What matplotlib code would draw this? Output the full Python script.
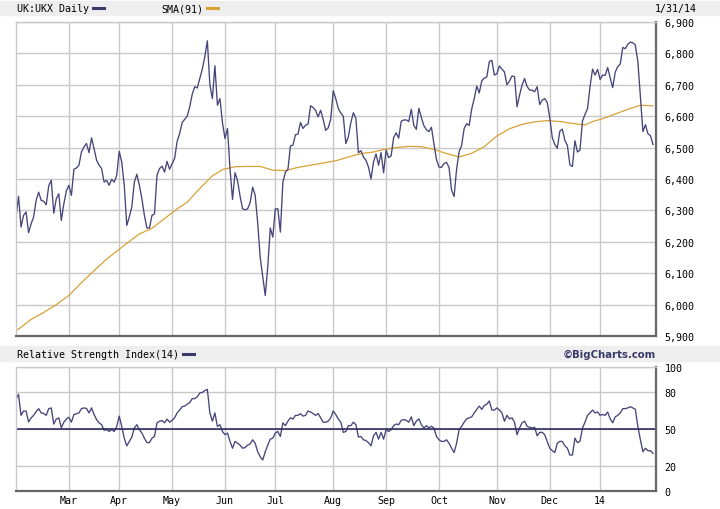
import numpy as np
import pandas as pd
import matplotlib
matplotlib.use('Agg')
import matplotlib.pyplot as plt
from matplotlib.patches import Rectangle
from matplotlib.lines import Line2D
from matplotlib.ticker import FuncFormatter

# LSE trading days, Jan 31 2013 .. Jan 31 2014
holidays = ['2013-03-29', '2013-04-01', '2013-05-06', '2013-05-27',
            '2013-08-26', '2013-12-25', '2013-12-26', '2014-01-01']

# daily close, UK:UKX
close_feb = [6279, 6345, 6247, 6284, 6295, 6229, 6257, 6279, 6332, 6358, 6332,
             6329, 6318, 6378, 6396, 6291, 6337, 6353, 6268, 6321, 6362]  # incl. Jan 31
close_mar = [6380, 6348, 6431, 6435, 6444, 6486, 6502, 6513, 6484, 6531,
             6497, 6460, 6444, 6433, 6390, 6396, 6380, 6399, 6390, 6412]
close_apr = [6488, 6454, 6380, 6252, 6279, 6311, 6390, 6415, 6380, 6337, 6284,
             6244, 6244, 6284, 6289, 6412, 6433, 6441, 6422, 6456, 6431]
close_may = [6449, 6465, 6520, 6545, 6580, 6590, 6600, 6630, 6670, 6694, 6690,
             6720, 6750, 6790, 6840, 6700, 6656, 6761, 6635, 6656, 6580]
close_jun = [6529, 6561, 6433, 6335, 6420, 6395, 6345, 6305, 6302, 6305,
             6325, 6374, 6348, 6260, 6150, 6090, 6029, 6120, 6244, 6215]
close_jul = [6305, 6305, 6231, 6390, 6422, 6430, 6505, 6508, 6541, 6543, 6580, 6561,
             6571, 6575, 6633, 6628, 6618, 6598, 6619, 6590, 6555, 6563, 6590]
close_aug = [6681, 6656, 6625, 6610, 6600, 6513, 6534, 6580, 6611, 6593, 6484,
             6490, 6470, 6460, 6438, 6400, 6454, 6480, 6444, 6484, 6420]
close_sep = [6492, 6468, 6474, 6532, 6547, 6530, 6584, 6588, 6588, 6583, 6622,
             6571, 6558, 6625, 6596, 6570, 6557, 6551, 6565, 6512, 6462]
close_oct = [6438, 6437, 6449, 6453, 6437, 6365, 6344, 6431, 6487, 6507, 6561, 6576,
             6571, 6623, 6656, 6696, 6674, 6713, 6721, 6725, 6774, 6778, 6731]
close_nov = [6735, 6760, 6750, 6741, 6700, 6712, 6728, 6726, 6630, 6667, 6699,
             6720, 6695, 6683, 6683, 6678, 6694, 6637, 6651, 6656, 6644]
close_dec = [6595, 6532, 6510, 6498, 6552, 6559, 6523, 6507, 6445, 6440,
             6522, 6486, 6492, 6585, 6606, 6624, 6694, 6750, 6731, 6749]
close_jan = [6717, 6731, 6730, 6755, 6722, 6691, 6740, 6758, 6766, 6819, 6815,
             6829, 6836, 6834, 6826, 6774, 6663, 6551, 6573, 6544, 6538, 6510]

# SMA(91), read weekly
sma_dates = ['2013-01-31', '2013-02-01', '2013-02-08', '2013-02-15', '2013-02-22',
             '2013-03-01', '2013-03-08', '2013-03-15', '2013-03-22', '2013-03-28',
             '2013-04-05', '2013-04-12', '2013-04-19', '2013-04-26', '2013-05-03',
             '2013-05-10', '2013-05-17', '2013-05-24', '2013-05-31', '2013-06-07',
             '2013-06-14', '2013-06-21', '2013-06-28', '2013-07-05', '2013-07-12',
             '2013-07-19', '2013-07-26', '2013-08-02', '2013-08-09', '2013-08-16',
             '2013-08-23', '2013-08-30', '2013-09-06', '2013-09-13', '2013-09-20',
             '2013-09-27', '2013-10-04', '2013-10-11', '2013-10-18', '2013-10-25',
             '2013-11-01', '2013-11-08', '2013-11-15', '2013-11-22', '2013-11-29',
             '2013-12-06', '2013-12-13', '2013-12-20', '2013-12-27', '2014-01-03',
             '2014-01-10', '2014-01-17', '2014-01-24', '2014-01-31']
sma_values = [5919, 5922, 5953, 5975, 6000, 6029, 6070, 6108, 6145, 6170,
              6195, 6225, 6243, 6274, 6305, 6326, 6370, 6410, 6430, 6439,
              6440, 6440, 6428, 6427, 6437, 6444, 6451, 6458, 6470, 6481,
              6486, 6494, 6500, 6504, 6503, 6494, 6481, 6470, 6482, 6503,
              6537, 6560, 6574, 6582, 6586, 6583, 6577, 6572, 6583, 6592,
              6607, 6622, 6635, 6633]

# RSI(14), daily
rsi_values = [74, 78, 61, 64.5, 64.5, 55.7, 59, 61, 64, 66.4,
              63, 62.5, 61, 66.4, 67, 54, 58, 59, 51, 55.5,
              58, 59.5, 55.5, 61.7, 62.3, 63, 66.4, 67, 66.6, 63,
              67, 61.7, 57.6, 55, 53.5, 49, 49.5, 48, 49.5, 48,
              52, 60.4, 52, 42.6, 36.4, 40, 43.5, 50.8, 53.5, 49.5,
              46.7, 42.6, 39, 39, 42.6, 44, 55, 56.3, 56.8, 55,
              58, 55.5, 57, 59, 63, 65.3, 68, 68.5, 70, 71.3,
              74.5, 74.5, 76, 79, 79.5, 81, 82, 63, 56.3, 63,
              52, 53.5, 48, 45.4, 46.7, 40, 34.5, 40, 38.5, 37,
              34.5, 35, 37, 38, 41.3, 38.5, 31.7, 27.6, 25, 31.7,
              37, 41.8, 42.6, 46.7, 48, 44, 55, 52.7, 56.3, 59,
              58, 61, 61, 62.3, 60.4, 61, 64.5, 63.7, 62.5, 61,
              62.5, 59, 55.5, 55.5, 56.3, 59, 64.5, 61.7,
              58, 55.5, 47.3, 48, 52.7, 52.7, 55.5, 53.5, 43.5, 44,
              41.3, 40.7, 39, 36.4, 44.5, 47.3, 41.8, 47.3, 41.8, 49.5,
              48, 49.5, 52.7, 54, 53.5, 57, 57.6, 57, 55.5, 59.8,
              52.7, 56.3, 58.2, 53.5, 50.8, 52.7, 50.8, 52.2, 50.8, 44,
              41.3, 40, 40, 41.3, 38.5, 34.5, 31, 38.5, 49.5, 52.2,
              55.5, 58.2, 59, 59.8, 63, 65.8, 68.5, 65.8, 69, 70,
              72.6, 65.3, 65.3, 67, 65.3, 63, 56.3, 61, 58.2, 59,
              55.5, 45.4, 50.8, 55, 56.3, 52.2, 51.4, 50.8, 51.4, 44.5,
              47.3, 47.3, 45.4, 40, 34.5, 32.5, 31, 38.5, 40, 40,
              36.4, 34.5, 29, 29, 42.6, 39, 40, 50.8, 55.5, 61,
              63, 65.3, 63, 63.7, 61, 61.7, 61, 63.7, 58.2, 55,
              59.8, 61, 63, 66.4, 66.4, 67, 68, 67, 65.8, 52,
              41.3, 31.7, 34.5, 32.5, 32.5, 30.4]

month_dates = ['2013-03-01', '2013-04-01', '2013-05-01', '2013-06-01', '2013-07-01',
               '2013-08-01', '2013-09-01', '2013-10-01', '2013-11-01', '2013-12-01',
               '2014-01-01']
month_labels = ['Mar', 'Apr', 'May', 'Jun', 'Jul', 'Aug', 'Sep', 'Oct', 'Nov', 'Dec', '14']

price_ticks = [5900, 6000, 6100, 6200, 6300, 6400, 6500, 6600, 6700, 6800, 6900]
rsi_ticks = [0, 20, 50, 80, 100]

navy = '#45457a'
gold = '#d9a235'
grid = '#c8c8c8'
band = '#eeeeee'
mono = 'DejaVu Sans Mono'

days = pd.bdate_range('2013-01-31', '2014-01-31')
days = days[~days.isin(pd.to_datetime(holidays))]

close = (close_feb + close_mar + close_apr + close_may + close_jun + close_jul +
         close_aug + close_sep + close_oct + close_nov + close_dec + close_jan)
x_close = np.arange(len(close))
x_sma = days.searchsorted(pd.to_datetime(sma_dates))
x_rsi = np.arange(len(rsi_values))
x_month = days.searchsorted(pd.to_datetime(month_dates))

W, H = 720, 510
fig = plt.figure(figsize=(W / 100, H / 100), dpi=100)
fig.patch.set_facecolor('white')


def fx(px):
    return px / W


def fy(py):
    return 1 - py / H


# header bands
fig.add_artist(Rectangle((0, fy(16)), 1, 14 / H, transform=fig.transFigure,
                         color=band, zorder=0))
fig.add_artist(Rectangle((0, fy(362)), 1, 15 / H, transform=fig.transFigure,
                         color=band, zorder=0))

fig.text(fx(17), fy(9), 'UK:UKX Daily', family=mono, size=7.2, va='center')
fig.add_artist(Line2D([fx(93), fx(104)], [fy(8.5), fy(8.5)], color='#3a3a6a', lw=2.2,
                      transform=fig.transFigure))
fig.text(fx(161), fy(9), 'SMA(91)', family=mono, size=7.2, va='center')
fig.add_artist(Line2D([fx(207), fx(218)], [fy(8.5), fy(8.5)], color=gold, lw=2.2,
                      transform=fig.transFigure))
fig.text(fx(697), fy(9), '1/31/14', family=mono, size=7.2, va='center', ha='right')

fig.text(fx(17), fy(355), 'Relative Strength Index(14)', family=mono, size=7.2,
         va='center')
fig.add_artist(Line2D([fx(183), fx(194)], [fy(354.5), fy(354.5)], color='#3a3a6a',
                      lw=2.2, transform=fig.transFigure))
fig.text(fx(656), fy(355), '\u00a9BigCharts.com', family='DejaVu Sans', size=7.3,
         weight='bold', color='#3a3a6a', va='center', ha='right')

xmax = len(close) - 1 + 1.2


def style_axes(ax):
    ax.set_xlim(0, xmax)
    ax.set_xticks(x_month)
    ax.grid(True, color=grid, lw=1)
    ax.set_axisbelow(True)
    ax.yaxis.tick_right()
    ax.tick_params(length=0, labelsize=7.2, pad=6)
    for lab in ax.get_yticklabels():
        lab.set_family(mono)
    for s in ['left', 'top']:
        ax.spines[s].set_color(grid)
        ax.spines[s].set_linewidth(1)
    for s in ['right', 'bottom']:
        ax.spines[s].set_color('#666666')
        ax.spines[s].set_linewidth(1.6)


# price panel
ax = fig.add_axes([fx(16), fy(337), fx(640), 314 / H])
ax.plot(x_sma, sma_values, color=gold, lw=0.9)
ax.plot(x_close, close, color=navy, lw=0.95)
ax.set_ylim(5900, 6900)
ax.set_yticks(price_ticks)
ax.yaxis.set_major_formatter(FuncFormatter(lambda v, p: '{:,.0f}'.format(v)))
ax.set_xticklabels([])
style_axes(ax)

# RSI panel
ax2 = fig.add_axes([fx(16), fy(492), fx(640), 124 / H])
ax2.plot(x_rsi, rsi_values, color=navy, lw=0.95)
ax2.axhline(50, color='#2e2e5e', lw=1.2)
ax2.set_ylim(0, 100)
ax2.set_yticks(rsi_ticks)
ax2.set_xticklabels(month_labels, family=mono, size=7.2)
style_axes(ax2)
ax2.tick_params(axis='x', pad=3)

fig.savefig('out.png', dpi=100)
